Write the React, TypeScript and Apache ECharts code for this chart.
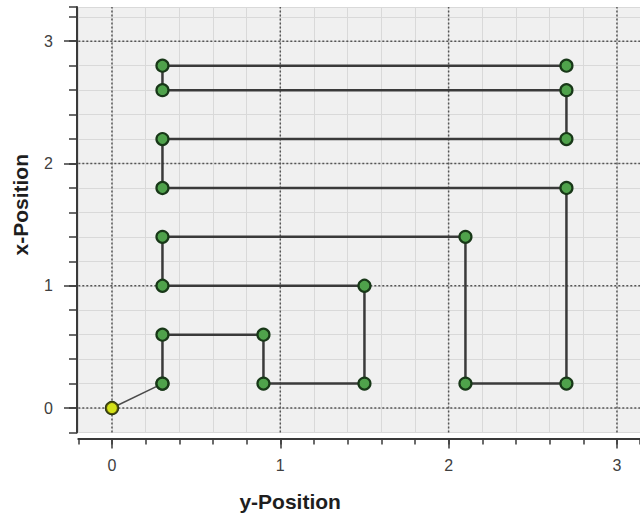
import React, { useEffect, useRef } from 'react';
import * as echarts from 'echarts';

// Horizontal axis: "y-Position", vertical axis: "x-Position"
const startYPos = [0, 0.3];
const startXPos = [0, 0.2];
const pathYPos = [0.3, 0.3, 0.9, 0.9, 1.5, 1.5, 0.3, 0.3, 2.1, 2.1, 2.7, 2.7, 0.3, 0.3, 2.7, 2.7, 0.3, 0.3, 2.7];
const pathXPos = [0.2, 0.6, 0.6, 0.2, 0.2, 1.0, 1.0, 1.4, 1.4, 0.2, 0.2, 1.8, 1.8, 2.2, 2.2, 2.6, 2.6, 2.8, 2.8];
const majorTicks = [0, 1, 2, 3];
const xRange = [-0.2, 3.137];
const yRange = [-0.2, 3.28];
const minorStep = 0.2;

const FONT = 'Liberation Sans';

export default function App() {
  const ref = useRef<HTMLDivElement>(null);
  useEffect(() => {
    const chart = echarts.init(ref.current!, null, { renderer: 'svg' });
    const intLabel = (v: number) =>
      Math.abs(v - Math.round(v)) < 1e-9 ? String(Math.round(v)) : '';

    const gridSeries: any[] = [];
    majorTicks.forEach((v) => {
      gridSeries.push({
        type: 'line',
        data: [[v, yRange[0]], [v, yRange[1]]],
        symbol: 'none',
        silent: true,
        z: 1,
        lineStyle: { color: '#555555', width: 1.5, type: [2, 2] },
      });
      gridSeries.push({
        type: 'line',
        data: [[xRange[0], v], [xRange[1], v]],
        symbol: 'none',
        silent: true,
        z: 1,
        lineStyle: { color: '#555555', width: 1.5, type: [2, 2] },
      });
    });

    const pointStyle = { color: '#4fa24b', borderColor: '#183818', borderWidth: 2.2 };

    const option: any = {
      animation: false,
      grid: {
        left: 78.3,
        right: 0,
        top: 7,
        bottom: 86.5,
        show: true,
        backgroundColor: '#f0f0f0',
        borderWidth: 0,
        containLabel: false,
        outerBoundsMode: 'none',
      },
      xAxis: [
        {
          type: 'value',
          min: xRange[0],
          max: xRange[1],
          interval: minorStep,
          offset: 6,
          name: 'y-Position',
          nameLocation: 'middle',
          nameGap: 52,
          nameTextStyle: {
            fontFamily: FONT,
            fontWeight: 'bold',
            fontSize: 21,
            color: '#1e1e1e',
            padding: [0, 138, 0, 0],
          },
          axisLine: { show: true, onZero: false, lineStyle: { color: '#3a3a3a', width: 2 } },
          axisTick: { show: true, length: 6, lineStyle: { color: '#3a3a3a', width: 1.5 } },
          axisLabel: {
            formatter: intLabel,
            margin: 19,
            fontFamily: FONT,
            fontSize: 16,
            color: '#404040',
          },
          splitLine: { show: true, lineStyle: { color: '#d9d9d9', width: 1 } },
        },
        {
          type: 'value',
          position: 'bottom',
          min: xRange[0],
          max: xRange[1],
          offset: 6,
          axisLine: { show: false, onZero: false },
          axisTick: { show: true, length: 10, customValues: majorTicks, lineStyle: { color: '#3a3a3a', width: 1.5 } },
          axisLabel: { show: false },
          splitLine: { show: false },
        },
      ],
      yAxis: [
        {
          type: 'value',
          min: yRange[0],
          max: yRange[1],
          interval: minorStep,
          offset: 1.3,
          name: 'x-Position',
          nameLocation: 'middle',
          nameGap: 46,
          nameTextStyle: {
            fontFamily: FONT,
            fontWeight: 'bold',
            fontSize: 21,
            color: '#1e1e1e',
            padding: [0, 0, 0, 30],
          },
          axisLine: { show: true, onZero: false, lineStyle: { color: '#3a3a3a', width: 2 } },
          axisTick: { show: true, length: 8, lineStyle: { color: '#3a3a3a', width: 1.5 } },
          axisLabel: {
            formatter: intLabel,
            margin: 24,
            fontFamily: FONT,
            fontSize: 16,
            color: '#404040',
          },
          splitLine: { show: true, lineStyle: { color: '#d9d9d9', width: 1 } },
        },
        {
          type: 'value',
          position: 'left',
          min: yRange[0],
          max: yRange[1],
          offset: 1.3,
          axisLine: { show: false, onZero: false },
          axisTick: { show: true, length: 13, customValues: majorTicks, lineStyle: { color: '#3a3a3a', width: 1.5 } },
          axisLabel: { show: false },
          splitLine: { show: false },
        },
      ],
      series: [
        ...gridSeries,
        {
          type: 'line',
          data: startYPos.map((v, i) => [v, startXPos[i]]),
          symbol: 'circle',
          symbolSize: 12,
          z: 3,
          lineStyle: { color: '#4a4a4a', width: 1.5 },
          itemStyle: pointStyle,
        },
        {
          type: 'line',
          data: pathYPos.map((v, i) => [v, pathXPos[i]]),
          symbol: 'circle',
          symbolSize: 12,
          z: 4,
          lineStyle: { color: '#3a3a3a', width: 2.5 },
          itemStyle: pointStyle,
        },
        {
          type: 'scatter',
          data: [[startYPos[0], startXPos[0]]],
          symbol: 'circle',
          symbolSize: 12,
          z: 5,
          itemStyle: { color: '#f4f20c', borderColor: '#38380c', borderWidth: 2 },
        },
      ],
    };
    chart.setOption(option);
    return () => chart.dispose();
  }, []);
  return (
    <div
      ref={ref}
      style={{ position: 'fixed', left: 0, top: 0, width: 640, height: 519, background: '#ffffff' }}
    />
  );
}
